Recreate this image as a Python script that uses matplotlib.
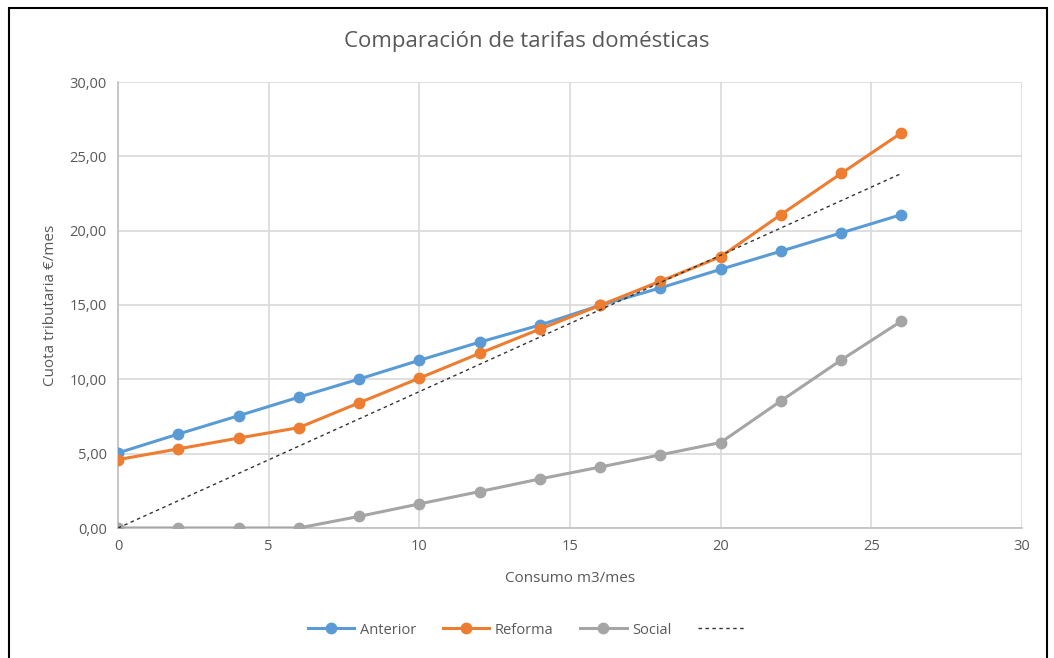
import matplotlib
matplotlib.use('Agg')
import matplotlib.pyplot as plt
from matplotlib.ticker import FuncFormatter
from matplotlib.patches import Rectangle

plt.rcParams['font.family'] = ['Open Sans', 'DejaVu Sans']

# Datos
consumo = [0, 2, 4, 6, 8, 10, 12, 14, 16, 18, 20, 22, 24, 26]
anterior = [5.05, 6.32, 7.55, 8.8, 10.02, 11.28, 12.5, 13.65, 14.98, 16.15, 17.4, 18.62, 19.85, 21.08]
reforma = [4.6, 5.32, 6.05, 6.75, 8.42, 10.08, 11.75, 13.38, 14.98, 16.6, 18.25, 21.08, 23.85, 26.58]
social = [0, 0, 0, 0, 0.78, 1.62, 2.45, 3.3, 4.1, 4.92, 5.75, 8.55, 11.3, 13.92]
lineal_x = [0, 26]
lineal_y = [0, 23.85]

gris = '#595959'
fig = plt.figure(figsize=(10.54, 6.58), dpi=100)
ax = fig.add_axes([118 / 1054, 1 - 528 / 658, 904 / 1054, 446 / 658])

ax.plot(consumo, anterior, color='#5B9BD5', lw=2.2, marker='o', ms=7.5, label='Anterior', zorder=4)
ax.plot(consumo, reforma, color='#ED7D31', lw=2.2, marker='o', ms=7.5, label='Reforma', zorder=5)
ax.plot(consumo, social, color='#A5A5A5', lw=2.2, marker='o', ms=7.5, label='Social', zorder=3)
ax.plot(lineal_x, lineal_y, color='#333333', lw=1.0, ls=(0, (2.5, 2.5)), label=' ', zorder=6)

ax.set_xlim(0, 30)
ax.set_ylim(0, 30)
ax.set_xticks(range(0, 31, 5))
ax.set_yticks(range(0, 31, 5))
ax.yaxis.set_major_formatter(FuncFormatter(lambda v, p: f'{v:.2f}'.replace('.', ',')))
ax.grid(True, color='#D9D9D9', lw=1.2)
ax.set_axisbelow(True)
for s in ['top', 'right']:
    ax.spines[s].set_visible(False)
for s in ['left', 'bottom']:
    ax.spines[s].set_color('#BFBFBF')
    ax.spines[s].set_linewidth(1.2)
ax.tick_params(length=0, colors=gris, labelsize=10.5, pad=8)

ax.set_xlabel('Consumo m3/mes', color=gris, fontsize=11, labelpad=12)
ax.set_ylabel('Cuota tributaria €/mes', color=gris, fontsize=11, labelpad=8)
fig.text(0.5, 1 - 42 / 658, 'Comparación de tarifas domésticas', ha='center', va='center',
         color=gris, fontsize=16)

leg = fig.legend(loc='center', bbox_to_anchor=(531 / 1054, 1 - 630 / 658), ncol=4, frameon=False,
                 fontsize=10.5, handlelength=3.2, columnspacing=1.8, handletextpad=0.4)
for t in leg.get_texts():
    t.set_color(gris)

fig.patches.append(Rectangle((9 / 1054, -0.05), 1038 / 1054, 1.05 - 8 / 658, transform=fig.transFigure,
                             fill=False, edgecolor='black', lw=1.5))

plt.savefig('out.png', dpi=100)
